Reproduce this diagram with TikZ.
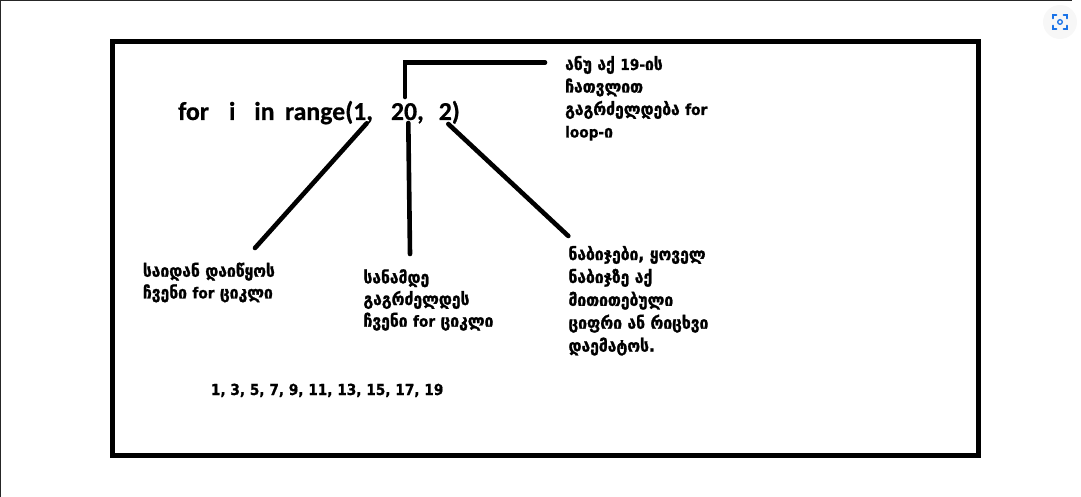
\documentclass[tikz,border=0pt]{standalone}
\usepackage{fontspec}
\newfontfamily\geo{DejaVu Sans}[FakeStretch=0.92,FakeBold=1.4]
\newfontfamily\latfont{DejaVu Sans}[FakeStretch=0.9,FakeBold=0.8]
\newfontfamily\codefont{Carlito}[FakeBold=0.6]
\newcommand\lbit[1]{{\latfont\bfseries\fontsize{15.2}{22}\selectfont #1}}
\definecolor{iconblue}{HTML}{1A73E8}
\begin{document}
\begin{tikzpicture}[x=1pt,y=-1pt,
  thickline/.style={line width=4.6pt,line cap=round},
  note/.style={anchor=base west,inner sep=0pt,font=\geo\bfseries\fontsize{17}{22.5}\selectfont},
  codetext/.style={anchor=base west,inner sep=0pt,font=\codefont\bfseries\fontsize{25.8}{30}\selectfont}]
\useasboundingbox (0,0) rectangle (1081,497);
% window edges
\draw[line width=1pt,black!85] (0.5,497) -- (0.5,0.5) -- (1072,0.5);
% icon
\fill[black!3] (1060,22) circle (17);
\begin{scope}[iconblue,line width=1.6pt,line cap=round]
\draw (1053,18.5) -- (1053,15) -- (1056.5,15);
\draw (1063.5,15) -- (1067,15) -- (1067,18.5);
\draw (1053,25.5) -- (1053,29) -- (1056.5,29);
\draw (1063.5,29) -- (1067,29) -- (1067,25.5);
\draw[line width=1.3pt] (1060,22) circle (2.3);
\end{scope}
% frame
\draw[line width=4.6pt,line join=miter] (112.3,41.5) rectangle (978.5,455.7);
% code
\node[codetext] (code) at (178,120) {for\hspace{20pt}i\hspace{19pt}in\hspace{10.5pt}range(1,\hspace{18pt}20,\hspace{15pt}2)};
% notes
\node[note] (top) at (565,70) {\vtop{\hbox{ანუ აქ \lbit{19-}ის}\hbox{ჩათვლით}\hbox{გაგრძელდება \lbit{for}}\hbox{\lbit{loop-}ი}}};
\node[note,font=\geo\bfseries\fontsize{17}{21.7}\selectfont] (start) at (142.7,276.7) {\vtop{\hbox{საიდან დაიწყოს}\hbox{ჩვენი \lbit{for} ციკლი}}};
\node[note,font=\geo\bfseries\fontsize{17}{21.7}\selectfont] (stop) at (363.3,283.3) {\vtop{\hbox{სანამდე}\hbox{გაგრძელდეს}\hbox{ჩვენი \lbit{for} ციკლი}}};
\node[note,font=\geo\bfseries\fontsize{17}{22.9}\selectfont] (step) at (568.3,260) {\vtop{\hbox{ნაბიჯები, ყოველ}\hbox{ნაბიჯზე აქ}\hbox{მითითებული}\hbox{ციფრი ან რიცხვი}\hbox{დაემატოს.}}};
\node[anchor=base west,inner sep=0pt] (seq) at (210.7,395) {\lbit{1, 3, 5, 7, 9, 11, 13, 15, 17, 19}};
% connector ends
\coordinate (c1) at (366.7,123.3);
\coordinate (c1e) at (255,248);
\coordinate (c2) at (408.3,123);
\coordinate (c2e) at (410,254);
\coordinate (c3) at (448.3,124);
\coordinate (c3e) at (568.3,236);
\coordinate (t0) at (405,97);
\coordinate (t1) at (405,62.5);
\coordinate (t2) at (545,62.5);
\draw[thickline] (c1) -- (c1e);
\draw[thickline] (c2) -- (c2e);
\draw[thickline] (c3) -- (c3e);
\draw[thickline,line join=miter] (t0) -- (t1) -- (t2);
\end{tikzpicture}
\end{document}
